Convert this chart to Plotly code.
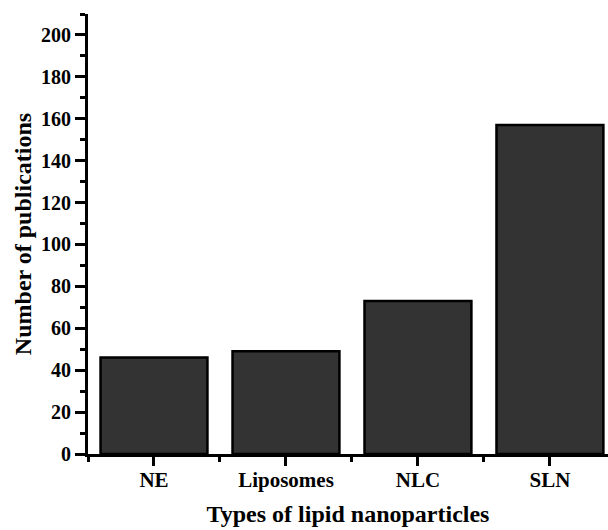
import plotly.graph_objects as go

categories = ["NE", "Liposomes", "NLC", "SLN"]
publications = [46, 49, 73, 157]
y_tick_values = [0, 20, 40, 60, 80, 100, 120, 140, 160, 180, 200]

positions = list(range(len(categories)))

fig = go.Figure()
fig.add_trace(go.Bar(
    x=positions,
    y=publications,
    width=0.81,
    marker=dict(color="#333333", line=dict(color="#000000", width=2.5)),
    hoverinfo="skip",
))

font_family = "Liberation Serif, Times New Roman, serif"

fig.update_layout(
    width=608, height=530,
    margin=dict(l=88, r=0, t=14, b=76),
    paper_bgcolor="white", plot_bgcolor="white",
    showlegend=False,
    font=dict(family=font_family, color="black"),
)

fig.update_xaxes(
    automargin=False,
    range=[-0.5, 3.44],
    tickmode="array", tickvals=positions, ticktext=["<b>%s</b>" % c for c in categories],
    ticks="outside", ticklen=9, tickwidth=3, tickcolor="black",
    minor=dict(tickmode="linear", tick0=0.5, dtick=1, ticks="outside", ticklen=5, tickwidth=3, tickcolor="black"),
    showline=True, linecolor="black", linewidth=3,
    showgrid=False, zeroline=False,
    tickfont=dict(size=21, family=font_family, color="black"),
    ticklabelstandoff=-4,
    title=dict(text="<b>Types of lipid nanoparticles</b>", font=dict(size=24, family=font_family, color="black"), standoff=14),
)

fig.update_yaxes(
    automargin=False,
    range=[0, 210],
    tickmode="array", tickvals=y_tick_values, ticktext=["<b>%d</b>" % v for v in y_tick_values],
    ticks="outside", ticklen=10, tickwidth=3, tickcolor="black",
    minor=dict(tickmode="linear", tick0=10, dtick=20, ticks="outside", ticklen=5, tickwidth=3, tickcolor="black"),
    showline=True, linecolor="black", linewidth=3,
    showgrid=False, zeroline=False,
    tickfont=dict(size=20, family=font_family, color="black"),
    title=dict(text="<b>Number of publications</b>", font=dict(size=24, family=font_family, color="black"), standoff=3),
)

fig.write_html(
    "out.html",
    config={"displayModeBar": False},
    post_script="document.body.style.margin='0';document.body.style.overflow='hidden';",
)
